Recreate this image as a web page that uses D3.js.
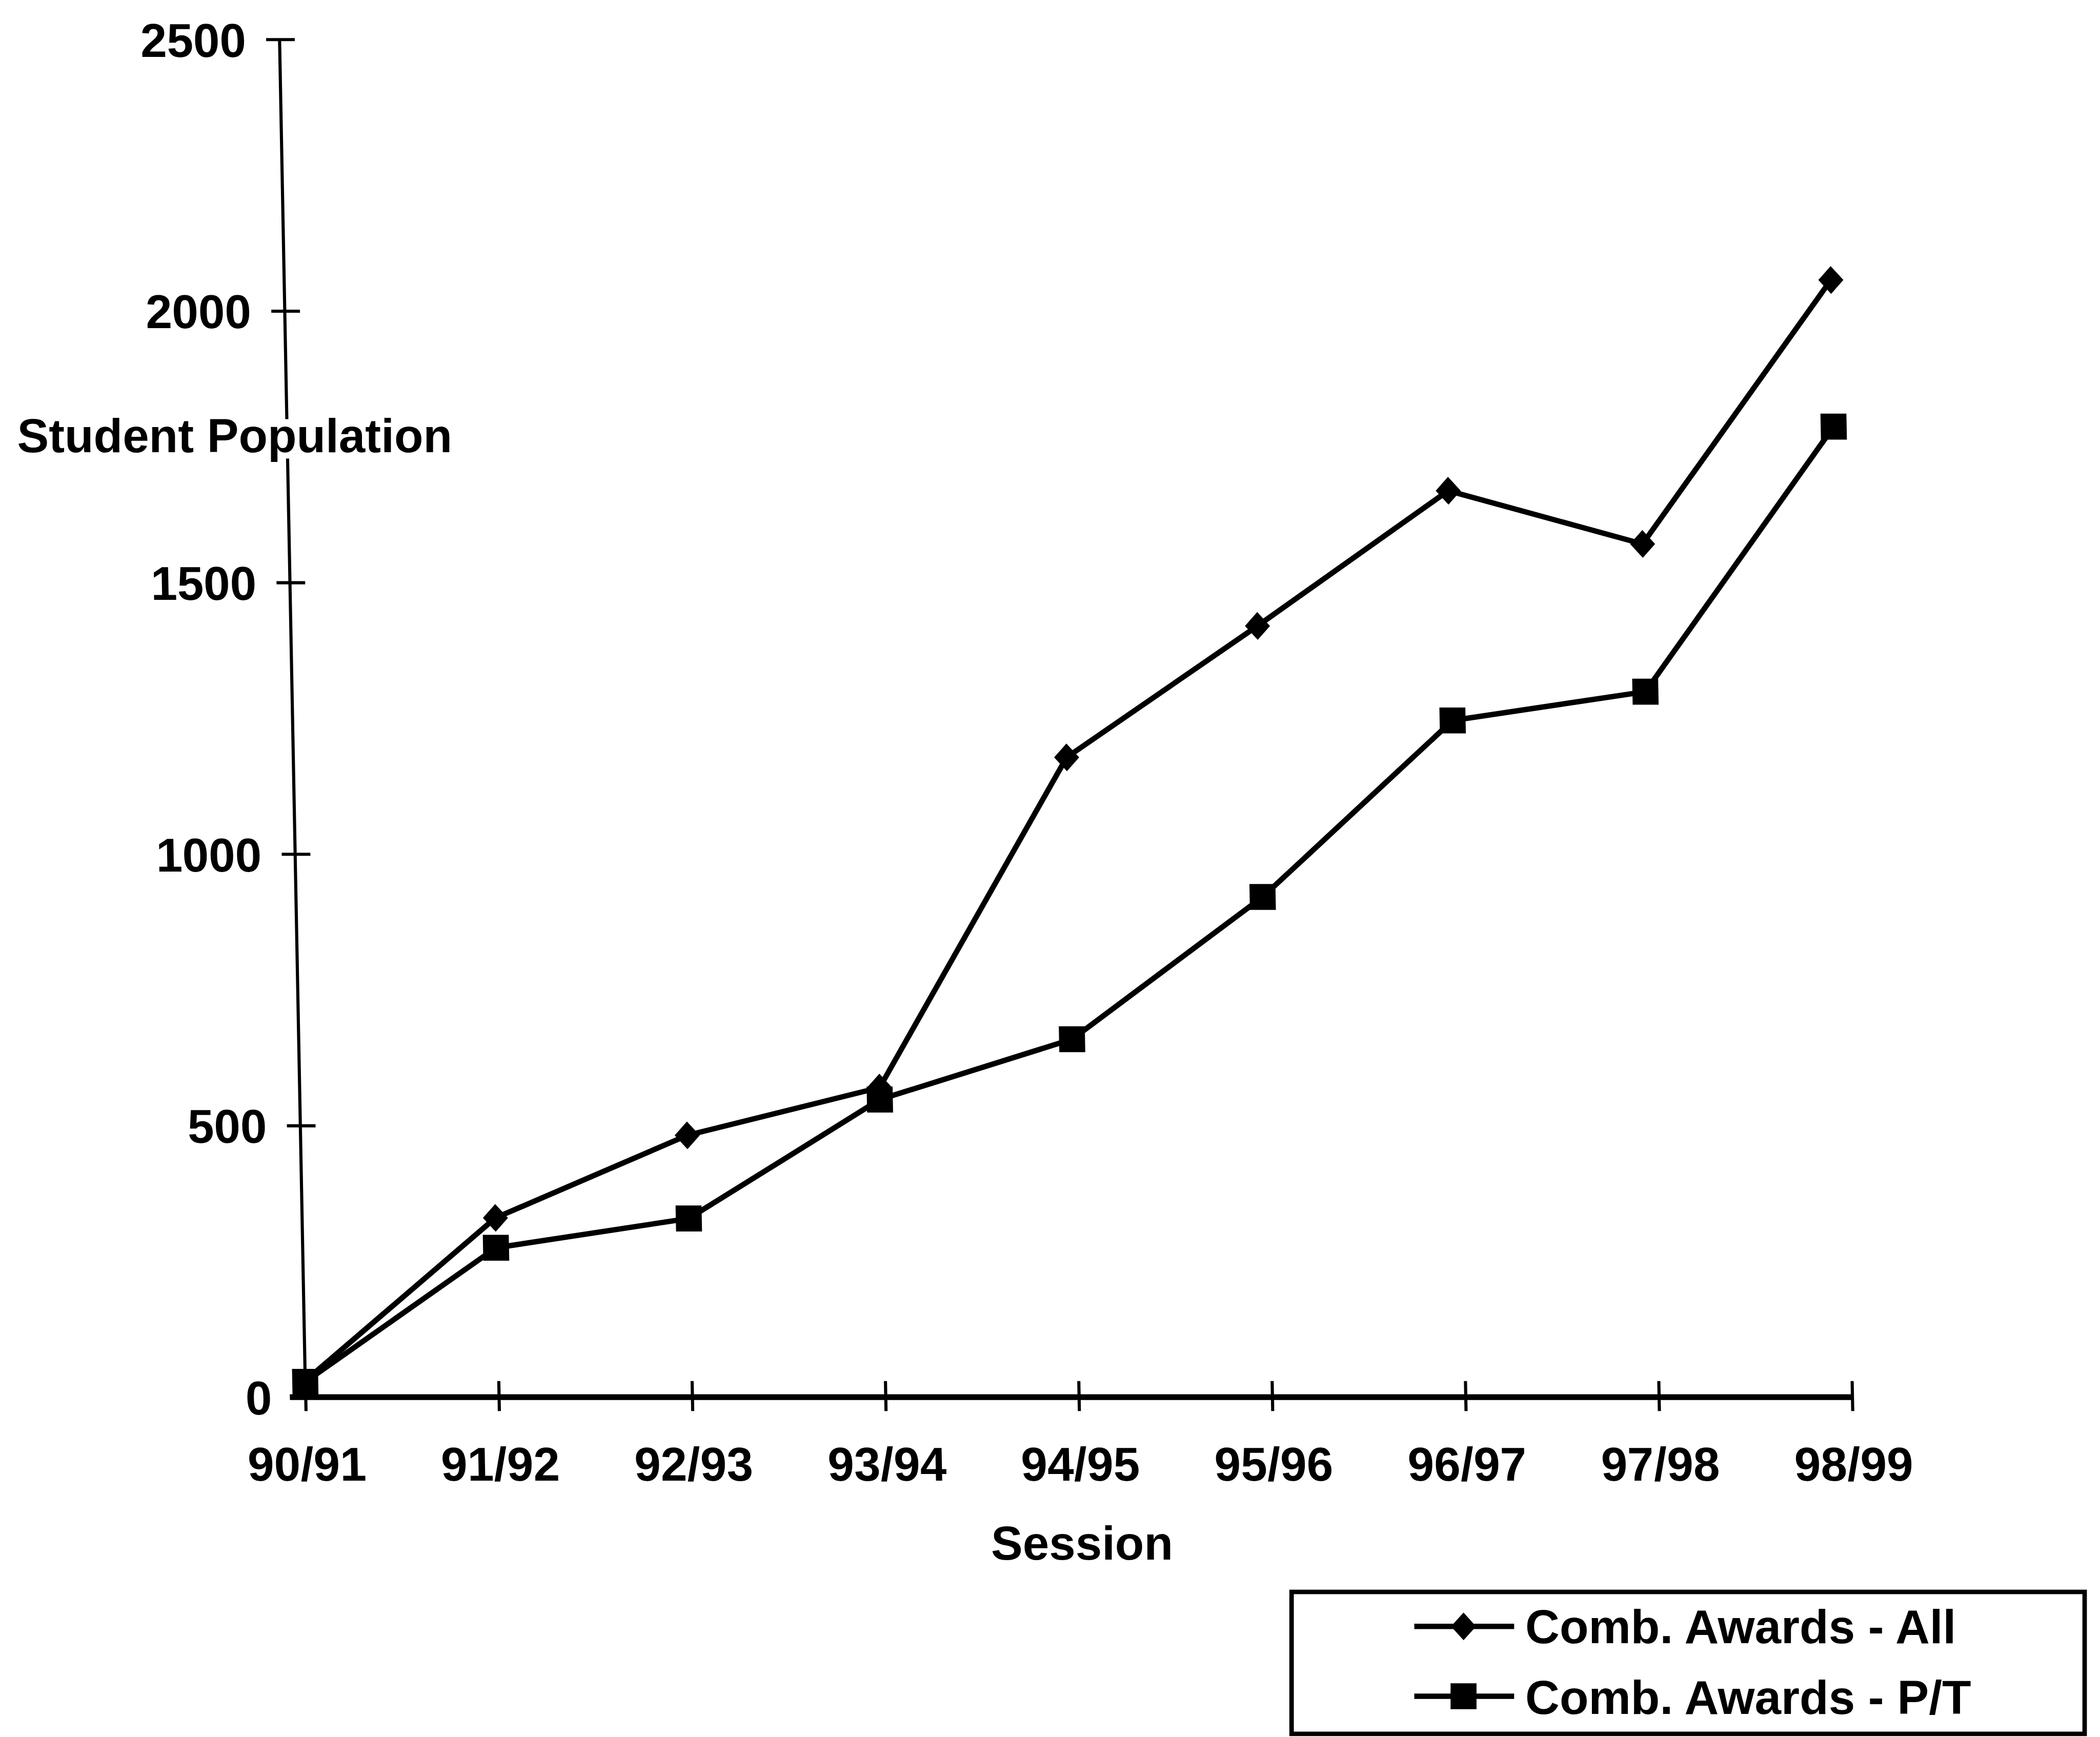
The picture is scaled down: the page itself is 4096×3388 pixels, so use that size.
<!DOCTYPE html>
<html>
<head>
<meta charset="utf-8">
<script src="https://cdn.jsdelivr.net/npm/d3@7"></script>
<style>
  html, body { margin: 0; padding: 0; background: #fff; }
  svg { display: block; }
</style>
</head>
<body>
<svg id="chart"></svg>
<script>
// Sessions on the category axis
const sessions = ["90/91", "91/92", "92/93", "93/94", "94/95", "95/96", "96/97", "97/98", "98/99"];
// Student population per session
const allAwards = [30, 330, 482, 570, 1178, 1420, 1669, 1571, 2057];
const partTimeAwards = [28, 275, 329, 548, 659, 921, 1246, 1299, 1787];
// Value axis ticks
const yTicks = [0, 500, 1000, 1500, 2000, 2500];
const seriesNames = ["Comb. Awards - All", "Comb. Awards - P/T"];
const yTitle = "Student Population";
const xTitle = "Session";

const W = 4689, H = 3879;
const FONT = "'Liberation Sans', Arial, Helvetica, sans-serif";
const FS = 106;

const svg = d3.select("#chart")
  .attr("width", 4096)
  .attr("height", 3388)
  .attr("viewBox", `0 0 ${W} ${H}`);

svg.append("rect").attr("width", W).attr("height", H).attr("fill", "#fff");

const x = d3.scalePoint().domain(sessions).range([682, 4136]);
const y = d3.scaleLinear().domain([0, 2500]).range([3120, 88]);

// the printed plot leans slightly: its top edge sits left of the bottom edge
const lean = Math.atan(58 / 3032) * 180 / Math.PI;
const plot = svg.append("g")
  .attr("transform", `translate(0,${y(0)}) skewX(${lean}) translate(0,${-y(0)})`);

function styleText(sel) {
  sel.attr("font-family", FONT)
     .attr("font-weight", "bold")
     .attr("font-size", FS)
     .attr("fill", "#000");
}

// Value axis
const yAxis = plot.append("g")
  .attr("transform", `translate(${x(sessions[0])},0)`)
  .call(d3.axisLeft(y).tickValues(yTicks).tickFormat(d3.format("d")).tickSize(30));
yAxis.attr("font-family", null).attr("font-size", null);
yAxis.select(".domain")
  .attr("d", `M0,${y(2500)}V${y(0)}`)
  .attr("stroke", "#000").attr("stroke-width", 7);
yAxis.selectAll(".tick line")
  .attr("x1", 34).attr("x2", -30)
  .attr("stroke", "#000").attr("stroke-width", 7);
yAxis.selectAll(".tick text")
  .attr("x", -75).attr("dy", "0.36em")
  .call(styleText);

// Category axis
const xAxis = plot.append("g")
  .attr("transform", `translate(0,${y(0)})`)
  .call(d3.axisBottom(x).tickSize(31));
xAxis.attr("font-family", null).attr("font-size", null);
xAxis.select(".domain")
  .attr("d", `M${x(sessions[0]) - 35},0H${x(sessions[sessions.length - 1]) + 3}`)
  .attr("stroke", "#000").attr("stroke-width", 13);
xAxis.selectAll(".tick line")
  .attr("y1", -36).attr("y2", 31)
  .attr("stroke", "#000").attr("stroke-width", 7);
xAxis.selectAll(".tick text")
  .attr("y", 187).attr("dy", 0)
  .call(styleText);

// Series
const line = d3.line()
  .x((d, i) => x(sessions[i]))
  .y(d => y(d));

const diamondPath = "M0,-31L28,0L0,31L-28,0Z";
const squareSymbol = d3.symbol(d3.symbolSquare, 58 * 58);

const series = [
  { name: seriesNames[0], values: allAwards, marker: diamondPath },
  { name: seriesNames[1], values: partTimeAwards, marker: squareSymbol() }
];

series.forEach(s => {
  const g = plot.append("g");
  g.append("path")
    .datum(s.values)
    .attr("d", line)
    .attr("fill", "none")
    .attr("stroke", "#000")
    .attr("stroke-width", 12)
    .attr("stroke-linejoin", "round");
  g.selectAll("path.marker")
    .data(s.values)
    .join("path")
    .attr("class", "marker")
    .attr("d", s.marker)
    .attr("transform", (d, i) => `translate(${x(sessions[i])},${y(d)})`)
    .attr("fill", "#000");
});

// Value axis title, set on a white patch over the axis line
svg.append("rect")
  .attr("x", 30).attr("y", 936).attr("width", 985).attr("height", 88)
  .attr("fill", "#fff");
svg.append("text")
  .attr("x", 38).attr("y", 1010)
  .text(yTitle)
  .call(styleText);

// Category axis title
svg.append("text")
  .attr("x", 2416).attr("y", 3483)
  .attr("text-anchor", "middle")
  .text(xTitle)
  .call(styleText);

// Legend
const legend = svg.append("g");
legend.append("rect")
  .attr("x", 2884).attr("y", 3555)
  .attr("width", 1771).attr("height", 317)
  .attr("fill", "#fff")
  .attr("stroke", "#000").attr("stroke-width", 10);

const legendRows = [
  { s: series[0], cy: 3632, base: 3670 },
  { s: series[1], cy: 3788, base: 3828 }
];
legendRows.forEach(r => {
  legend.append("line")
    .attr("x1", 3158).attr("x2", 3381)
    .attr("y1", r.cy).attr("y2", r.cy)
    .attr("stroke", "#000").attr("stroke-width", 12);
  legend.append("path")
    .attr("d", r.s.marker)
    .attr("transform", `translate(3268,${r.cy})`)
    .attr("fill", "#000");
  legend.append("text")
    .attr("x", 3406).attr("y", r.base)
    .text(r.s.name)
    .call(styleText);
});
</script>
</body>
</html>
